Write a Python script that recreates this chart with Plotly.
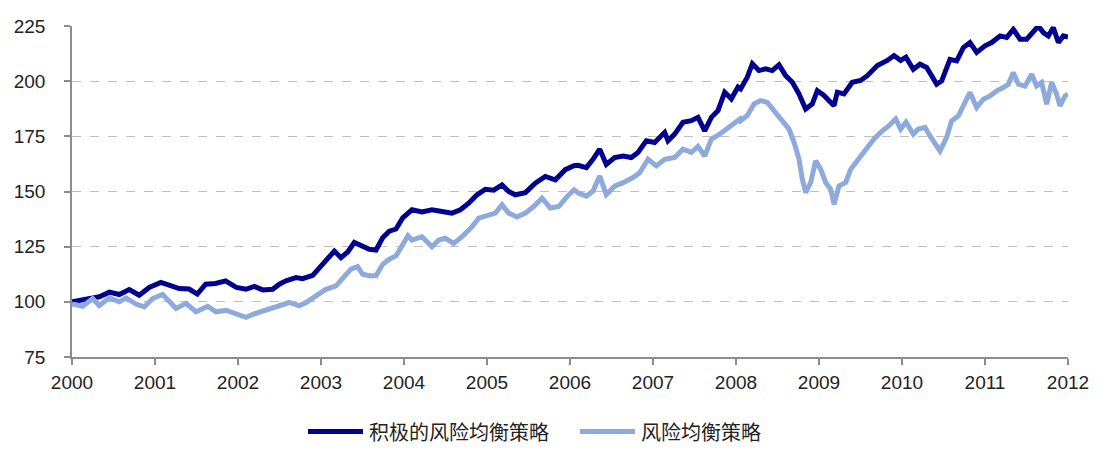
import plotly.graph_objects as go

# ---- data (decimal year, index value) ----
active_x = [2000.0, 2000.17, 2000.33, 2000.45, 2000.57, 2000.69, 2000.81, 2000.93, 2001.07, 2001.17,
            2001.29, 2001.41, 2001.51, 2001.61, 2001.73, 2001.85, 2001.98,
            2002.096, 2002.197, 2002.298, 2002.418, 2002.498, 2002.578, 2002.699, 2002.779, 2002.9,
            2002.98, 2003.06, 2003.161, 2003.241, 2003.322, 2003.401, 2003.482, 2003.582, 2003.663,
            2003.743, 2003.823, 2003.904, 2003.984, 2004.048,
            2004.096, 2004.217, 2004.337, 2004.458, 2004.578, 2004.679, 2004.779, 2004.88, 2004.98,
            2005.081, 2005.181, 2005.261, 2005.341, 2005.462, 2005.582, 2005.702, 2005.823, 2005.943,
            2006.048,
            2006.096, 2006.197, 2006.277, 2006.358, 2006.437, 2006.538, 2006.639, 2006.739, 2006.819,
            2006.919, 2007.02, 2007.141, 2007.181, 2007.261, 2007.361, 2007.462, 2007.542, 2007.623,
            2007.703, 2007.783, 2007.864, 2007.944, 2008.024,
            2008.056, 2008.136, 2008.197, 2008.277, 2008.358, 2008.437, 2008.518, 2008.598, 2008.679,
            2008.759, 2008.839, 2008.919, 2008.98, 2009.06, 2009.181, 2009.221, 2009.301, 2009.401,
            2009.502, 2009.582, 2009.703, 2009.823, 2009.904, 2009.984, 2010.048,
            2010.136, 2010.217, 2010.297, 2010.357, 2010.418, 2010.478, 2010.578, 2010.659, 2010.739,
            2010.819, 2010.9, 2011.0, 2011.08, 2011.181, 2011.261, 2011.341, 2011.422, 2011.502,
            2011.582, 2011.643, 2011.703, 2011.763, 2011.823, 2011.884, 2011.944, 2012.0]
active_y = [100, 101, 102.3, 104.4, 103.3, 105.6, 103, 106.5, 108.8, 107.6,
            106, 105.8, 103.5, 108, 108.3, 109.5, 106.5,
            105.7, 107, 105.4, 105.7, 108, 109.5, 111, 110.5, 112,
            115.5, 118.5, 123, 120, 122.6, 126.9, 125.6, 123.8, 123.5,
            129, 132, 133, 138, 140.5,
            141.7, 140.7, 141.7, 140.9, 140.2, 141.7, 144.7, 148.5, 151,
            150.6, 153, 150, 148.5, 149.5, 153.8, 156.8, 155.3, 159.9,
            161.7,
            161.9, 160.8, 164.6, 169.2, 162.3, 165.4, 166.1, 165.4, 167.7,
            173, 172.2, 176.8, 173, 176, 181.4, 182.1, 183.6, 177.5,
            183.6, 186.7, 195, 192, 197.3,
            196.5, 201.8, 207.9, 204.8, 205.6, 204.8, 207.4, 202.5, 199.5,
            194.2, 187.4, 189.7, 195.7, 193.5, 188.9, 195, 194.2, 199.5,
            200.3, 202.5, 207.1, 209.4, 211.6, 209.4, 210.9,
            205.4, 207.7, 206.2, 202.4, 198.6, 200.1, 209.9, 209.2, 215.2,
            217.5, 213, 216, 217.5, 220.5, 219.8, 223.5, 219, 219,
            222, 225, 222, 220.5, 224.3, 217.5, 220.5, 220]

parity_x = [2000.0, 2000.129, 2000.249, 2000.329, 2000.45, 2000.57, 2000.651, 2000.771, 2000.871, 2000.972,
            2001.092, 2001.173, 2001.253, 2001.373, 2001.494, 2001.635, 2001.735, 2001.855, 2002.016,
            2002.096, 2002.197, 2002.317, 2002.418, 2002.538, 2002.618, 2002.739, 2002.819, 2002.94,
            2003.06, 2003.181, 2003.261, 2003.361, 2003.442, 2003.502, 2003.582, 2003.663, 2003.743,
            2003.823, 2003.904, 2003.984, 2004.048,
            2004.096, 2004.217, 2004.337, 2004.418, 2004.498, 2004.599, 2004.699, 2004.819, 2004.9,
            2005.02, 2005.1, 2005.181, 2005.261, 2005.361, 2005.462, 2005.562, 2005.663, 2005.763,
            2005.864, 2005.964, 2006.048,
            2006.096, 2006.197, 2006.277, 2006.358, 2006.437, 2006.538, 2006.639, 2006.759, 2006.839,
            2006.94, 2007.04, 2007.141, 2007.261, 2007.361, 2007.462, 2007.542, 2007.623, 2007.703,
            2007.803, 2007.884, 2007.964, 2008.048,
            2008.056, 2008.136, 2008.217, 2008.297, 2008.377, 2008.458, 2008.558, 2008.639, 2008.699,
            2008.759, 2008.799, 2008.839, 2008.9, 2008.96, 2009.02, 2009.08, 2009.141, 2009.181,
            2009.241, 2009.322, 2009.382, 2009.482, 2009.582, 2009.663, 2009.763, 2009.843, 2009.924,
            2009.984, 2010.048,
            2010.136, 2010.197, 2010.277, 2010.337, 2010.418, 2010.458, 2010.538, 2010.598, 2010.679,
            2010.759, 2010.819, 2010.9, 2010.98, 2011.06, 2011.141, 2011.221, 2011.281, 2011.341,
            2011.402, 2011.482, 2011.562, 2011.622, 2011.683, 2011.743, 2011.803, 2011.863, 2011.904,
            2011.964, 2012.0]
parity_y = [99, 98, 101.5, 98.3, 101.8, 100, 101.8, 99, 97.7, 101.5,
            103.3, 100, 97, 99.3, 95.5, 98, 95.5, 96.2, 94,
            93, 94.6, 96, 97.5, 98.5, 99.7, 98.2, 99.7, 102.7,
            105.7, 107.2, 110.3, 114.8, 116, 112.5, 111.8, 111.8, 117,
            119.3, 120.8, 126, 130,
            128, 129.5, 125, 128, 128.8, 126.5, 129.5, 134, 137.9,
            139.4, 140.2, 144, 140.2, 138.4, 140.2, 143.2, 147, 142.5,
            143.2, 147.7, 150.8,
            149.4, 147.9, 150.2, 157, 148.6, 152.4, 154, 156.3, 158.5,
            164.6, 161.6, 164.6, 165.4, 169.2, 167.7, 170.4, 166.1, 173.7,
            176, 178.3, 180.6, 182.9,
            182.1, 184.4, 189.7, 191.2, 190.4, 186.6, 182.1, 178.3, 172.3,
            164.7, 155.6, 149.5, 154.1, 163.9, 160.1, 154.1, 151, 144.2,
            152.5, 154.1, 160.1, 164.7, 169.2, 173.8, 177.5, 179.8, 182.9,
            178.3, 181.4,
            176, 178.3, 179.1, 175.2, 170, 168.4, 174.5, 182, 184.3,
            191.1, 194.9, 188.1, 191.8, 193.3, 195.6, 197.1, 198.6, 203.9,
            198.6, 197.8, 203.1, 197.8, 199.4, 189.6, 199.4, 194.1, 188.8,
            193.3, 194.1]

series_names = ["积极的风险均衡策略", "风险均衡策略"]
series_colors = ["#000090", "#8EA9DC"]
year_ticks = list(range(2000, 2013))
year_labels = [str(y) for y in year_ticks]
y_ticks = [75, 100, 125, 150, 175, 200, 225]

# page body has an 8px margin: size the figure to sit inside the window
OFF = 8
W, H = 1101 - 2 * OFF, 456 - 2 * OFF
L, T = 72 - OFF, 26 - OFF
plot_w = 996
plot_bottom = 357.5 - OFF
R = W - L - plot_w
B = H - plot_bottom
plot_h = plot_bottom - T

fig = go.Figure()
for xs, ys, name, col in [(active_x, active_y, series_names[0], series_colors[0]),
                          (parity_x, parity_y, series_names[1], series_colors[1])]:
    fig.add_trace(go.Scatter(x=xs, y=ys, mode="lines", name=name,
                             line=dict(color=col, width=5), showlegend=False))

axis_font = dict(family="Liberation Sans, Arial, sans-serif", size=19, color="#222222")
fig.update_layout(
    width=W, height=H,
    margin=dict(l=L, r=R, t=T, b=B, pad=0, autoexpand=False),
    paper_bgcolor="white", plot_bgcolor="white",
    xaxis=dict(range=[2000, 2012], tickmode="array", tickvals=year_ticks, ticktext=year_labels,
               showgrid=False, zeroline=False, showline=True, linecolor="#8C8C8C", linewidth=1.5,
               ticks="outside", ticklen=6, tickcolor="#8C8C8C", tickwidth=1.5,
               tickfont=axis_font, ticklabelstandoff=1, automargin=False),
    yaxis=dict(range=[75, 225], tickmode="array", tickvals=y_ticks,
               showgrid=True, gridcolor="#BFBFBF", griddash="dash", gridwidth=1.2,
               zeroline=False, showline=True, linecolor="#8C8C8C", linewidth=1.5,
               ticks="outside", ticklen=6, tickcolor="#8C8C8C", tickwidth=1.5,
               tickfont=axis_font, ticklabelstandoff=15, automargin=False),
)

# custom legend (longer line samples as in the reference)
def px_x(p):
    return (p - OFF - L) / plot_w

def px_y(p):
    return (plot_bottom - (p - OFF)) / plot_h

leg_y = 432
leg_items = [(308, 363, 367), (580, 635, 639)]
for (x0, x1, tx), name, col in zip(leg_items, series_names, series_colors):
    fig.add_shape(type="line", xref="paper", yref="paper",
                  x0=px_x(x0), x1=px_x(x1), y0=px_y(leg_y), y1=px_y(leg_y),
                  line=dict(color=col, width=5))
    fig.add_annotation(xref="paper", yref="paper", x=px_x(tx), y=px_y(leg_y),
                       xanchor="left", yanchor="middle", showarrow=False, text=name,
                       font=dict(family="Noto Sans CJK SC", size=20, color="#222222"))

fig.write_html("out.html")
